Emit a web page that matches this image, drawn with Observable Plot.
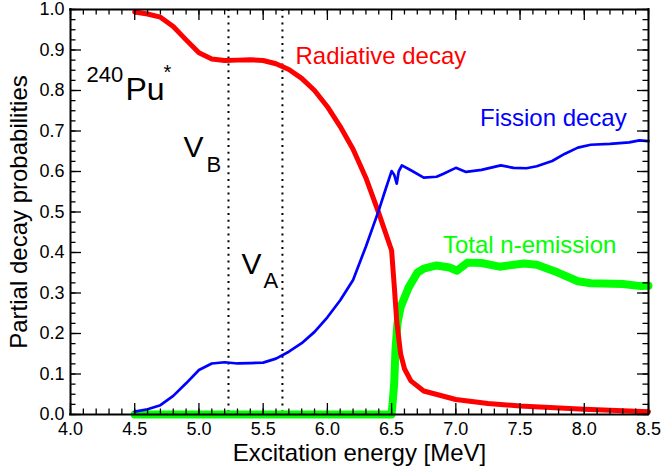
<!DOCTYPE html>
<html><head><meta charset="utf-8">
<script src="https://cdn.jsdelivr.net/npm/d3@7"></script>
<script src="https://cdn.jsdelivr.net/npm/@observablehq/plot@0.6"></script>
<style>body{margin:0;background:#fff} #chart svg{display:block}</style>
</head><body><div id="chart"></div>
<script>
// Radiative decay
const radX = [4.5, 4.6, 4.7, 4.8, 4.9, 5.0, 5.1, 5.2, 5.3, 5.4, 5.5, 5.6, 5.7, 5.8, 5.9, 6.0, 6.1, 6.2, 6.3, 6.4, 6.5, 6.52, 6.54, 6.57, 6.6, 6.65, 6.75, 7.0, 7.25, 7.5, 8.0, 8.5];
const radY = [0.994, 0.989, 0.981, 0.958, 0.925, 0.893, 0.878, 0.874, 0.875, 0.876, 0.874, 0.866, 0.852, 0.83, 0.8, 0.76, 0.711, 0.655, 0.584, 0.497, 0.405, 0.32, 0.23, 0.15, 0.113, 0.083, 0.058, 0.037, 0.027, 0.021, 0.013, 0.007];
// Fission decay
const fisX = [4.5, 4.6, 4.7, 4.8, 4.9, 5.0, 5.1, 5.2, 5.3, 5.4, 5.5, 5.6, 5.7, 5.8, 5.9, 6.0, 6.1, 6.2, 6.3, 6.4, 6.45, 6.5, 6.52, 6.54, 6.555, 6.58, 6.65, 6.75, 6.85, 6.9, 7.0, 7.08, 7.2, 7.35, 7.45, 7.55, 7.63, 7.75, 7.85, 7.95, 8.05, 8.2, 8.35, 8.43, 8.5];
const fisY = [0.007, 0.013, 0.023, 0.046, 0.077, 0.11, 0.126, 0.129, 0.126, 0.127, 0.128, 0.138, 0.155, 0.176, 0.204, 0.24, 0.282, 0.332, 0.415, 0.504, 0.553, 0.601, 0.592, 0.57, 0.6, 0.615, 0.603, 0.585, 0.587, 0.594, 0.609, 0.599, 0.604, 0.615, 0.609, 0.608, 0.613, 0.626, 0.644, 0.659, 0.666, 0.668, 0.672, 0.677, 0.675];
// Total n-emission
const nX = [4.5, 6.5, 6.52, 6.53, 6.545, 6.57, 6.63, 6.7, 6.75, 6.85, 6.95, 7.01, 7.09, 7.2, 7.34, 7.53, 7.63, 7.79, 7.95, 8.05, 8.3, 8.44, 8.5];
const nY = [0, 0, 0.075, 0.158, 0.224, 0.265, 0.312, 0.35, 0.36, 0.368, 0.363, 0.355, 0.375, 0.374, 0.365, 0.373, 0.37, 0.351, 0.329, 0.324, 0.322, 0.317, 0.318];
// Barriers
const barriers = [5.23, 5.65];
// Ticks
const xMajor = [4.0, 4.5, 5.0, 5.5, 6.0, 6.5, 7.0, 7.5, 8.0, 8.5];
const yMajor = [0.0, 0.1, 0.2, 0.3, 0.4, 0.5, 0.6, 0.7, 0.8, 0.9, 1.0];
const xMinor = d3.range(0, 46).map(i => 4 + i / 10);
const yMinor = d3.range(0, 41).map(i => i / 40);

const rad = radX.map((x, i) => ({x, y: radY[i]}));
const fis = fisX.map((x, i) => ({x, y: fisY[i]}));
const nem = nX.map((x, i) => ({x, y: nY[i]}));

const W = 664, H = 467, ML = 70, MR = 16, MT = 9, MB = 53;
const PW = W - ML - MR, PH = H - MT - MB;
const X0 = 4, X1 = 8.5, Y0 = 0, Y1 = 1;
// tick lengths in pixels, converted to data units
const BIG = 11, SMALL = 5.5;
const ty = px => px * (Y1 - Y0) / PH;
const tx = px => px * (X1 - X0) / PW;

const FONT = '"Liberation Sans", Arial, Helvetica, sans-serif';
const fmt = d3.format(".1f");
const tk = {stroke: "black", strokeWidth: 1.3};
const fr = {stroke: "black", strokeWidth: 2, strokeLinecap: "square"};

const chart = Plot.plot({
  width: W, height: H,
  marginLeft: ML, marginRight: MR, marginTop: MT, marginBottom: MB,
  style: {fontFamily: FONT},
  x: {domain: [X0, X1], label: null, axis: null},
  y: {domain: [Y0, Y1], label: null, axis: null},
  marks: [
    Plot.ruleX(barriers, {stroke: "black", strokeWidth: 2, strokeDasharray: "2,4.8"}),
    Plot.line(nem, {x: "x", y: "y", stroke: "#00ff00", strokeWidth: 8, strokeLinejoin: "round"}),
    Plot.line(rad, {x: "x", y: "y", stroke: "#ff0000", strokeWidth: 5, strokeLinejoin: "round"}),
    Plot.line(fis, {x: "x", y: "y", stroke: "#0000ff", strokeWidth: 2.7, strokeLinejoin: "round"}),
    // inward ticks (bottom, top, left, right)
    Plot.ruleX(xMajor, {x: d => d, y1: Y0, y2: Y0 + ty(BIG), ...tk}),
    Plot.ruleX(xMinor, {x: d => d, y1: Y0, y2: Y0 + ty(SMALL), ...tk}),
    Plot.ruleX(xMajor, {x: d => d, y1: Y1 - ty(BIG), y2: Y1, ...tk}),
    Plot.ruleX(xMinor, {x: d => d, y1: Y1 - ty(SMALL), y2: Y1, ...tk}),
    Plot.ruleY(yMajor, {y: d => d, x1: X0, x2: X0 + tx(BIG), ...tk}),
    Plot.ruleY(yMinor, {y: d => d, x1: X0, x2: X0 + tx(SMALL), ...tk}),
    Plot.ruleY(yMajor, {y: d => d, x1: X1 - tx(BIG), x2: X1, ...tk}),
    Plot.ruleY(yMinor, {y: d => d, x1: X1 - tx(SMALL), x2: X1, ...tk}),
    // frame
    Plot.ruleX([X0, X1], {x: d => d, ...fr}),
    Plot.ruleY([Y0, Y1], {y: d => d, ...fr}),
    // tick labels
    Plot.text(xMajor, {x: d => d, frameAnchor: "bottom", dy: 8, lineAnchor: "top", text: d => fmt(d), fontSize: 18, fill: "black"}),
    Plot.text(yMajor, {y: d => d, frameAnchor: "left", dx: -6, textAnchor: "end", lineAnchor: "middle", text: d => fmt(d), fontSize: 18, fill: "black"}),
    // annotations
    Plot.text(["Radiative decay"], {x: 5.752, y: 0.866, text: d => d, fill: "#ff0000", fontSize: 24, textAnchor: "start", lineAnchor: "bottom"}),
    Plot.text(["Fission decay"], {x: 7.188, y: 0.712, text: d => d, fill: "#0000ff", fontSize: 24, textAnchor: "start", lineAnchor: "bottom"}),
    Plot.text(["Total n-emission"], {x: 6.9, y: 0.399, text: d => d, fill: "#00ff00", fontSize: 24, textAnchor: "start", lineAnchor: "bottom"}),
    Plot.text(["240"], {x: 4.125, y: 0.821, text: d => d, fontSize: 22, textAnchor: "start", lineAnchor: "bottom", fill: "black"}),
    Plot.text(["Pu"], {x: 4.428, y: 0.776, text: d => d, fontSize: 32, textAnchor: "start", lineAnchor: "bottom", fill: "black"}),
    Plot.text(["*"], {x: 4.724, y: 0.828, text: d => d, fontSize: 20, textAnchor: "start", lineAnchor: "bottom", fill: "black"}),
    Plot.text(["V"], {x: 4.88, y: 0.636, text: d => d, fontSize: 30, textAnchor: "start", lineAnchor: "bottom", fill: "black"}),
    Plot.text(["B"], {x: 5.059, y: 0.599, text: d => d, fontSize: 22, textAnchor: "start", lineAnchor: "bottom", fill: "black"}),
    Plot.text(["V"], {x: 5.332, y: 0.348, text: d => d, fontSize: 30, textAnchor: "start", lineAnchor: "bottom", fill: "black"}),
    Plot.text(["A"], {x: 5.503, y: 0.313, text: d => d, fontSize: 22, textAnchor: "start", lineAnchor: "bottom", fill: "black"}),
    // axis titles
    Plot.text(["Partial decay probabilities"], {frameAnchor: "left", rotate: -90, dx: -44, text: d => d, fontSize: 24, textAnchor: "middle", lineAnchor: "bottom", fill: "black"}),
    Plot.text(["Excitation energy [MeV]"], {frameAnchor: "bottom", dy: 46.5, text: d => d, fontSize: 24, textAnchor: "middle", lineAnchor: "bottom", fill: "black"})
  ]
});
document.getElementById("chart").appendChild(chart);
</script></body></html>
